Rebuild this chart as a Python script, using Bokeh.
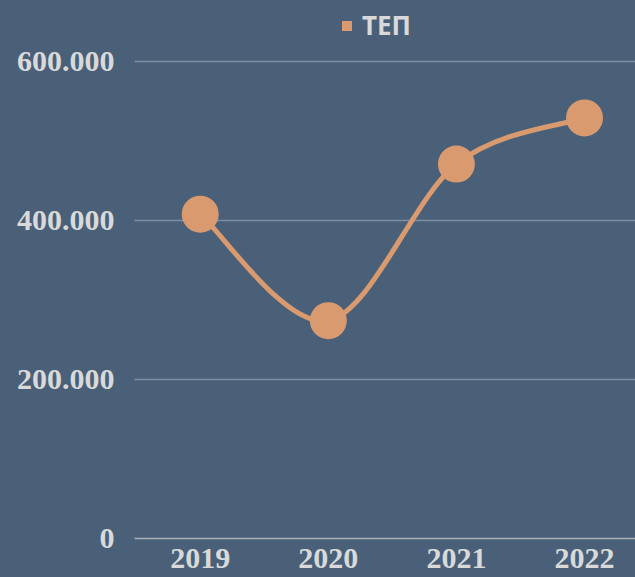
from bokeh.plotting import figure
from bokeh.models import (Range1d, FixedTicker, Legend, LegendItem, ColumnDataSource)
from bokeh.embed import file_html
from bokeh.resources import INLINE

# ---- data ----
years = ["2019", "2020", "2021", "2022"]
tep = [408000, 274000, 471000, 529000]
y_ticks = [0, 200000, 400000, 600000]
y_tick_labels = ["0", "200.000", "400.000", "600.000"]
series_name = "ТЕП"

BG = "#4a6078"
ORANGE = "#d99a70"
TXT = "#d9d9d9"

xs = list(range(len(years)))

# frame spans the full height above the axis; 600.000 sits 61px below the top
y_top = 600000 * 538 / 477
p = figure(width=635, height=577, output_backend="svg", toolbar_location=None,
           x_range=Range1d(-0.513, 3.398), y_range=Range1d(0, y_top),
           min_border_left=134, min_border_right=0, min_border_top=0,
           min_border_bottom=39)
p.background_fill_color = BG
p.border_fill_color = None
p.outline_line_color = None

# smooth curve: cubic bezier segments with Catmull-Rom style control points
n = len(xs)
def pt(i):
    i = max(0, min(n - 1, i))
    return xs[i], tep[i]
bx0, by0, bx1, by1, cx0, cy0, cx1, cy1 = [], [], [], [], [], [], [], []
for i in range(n - 1):
    xa, ya = pt(i - 1)
    x0, y0 = pt(i)
    x1, y1 = pt(i + 1)
    xb, yb = pt(i + 2)
    bx0.append(x0); by0.append(y0); bx1.append(x1); by1.append(y1)
    cx0.append(x0 + (x1 - xa) / 6); cy0.append(y0 + (y1 - ya) / 6)
    cx1.append(x1 - (xb - x0) / 6); cy1.append(y1 - (yb - y0) / 6)
p.bezier(x0=bx0, y0=by0, x1=bx1, y1=by1, cx0=cx0, cy0=cy0, cx1=cx1, cy1=cy1,
         line_color=ORANGE, line_width=5)

src = ColumnDataSource(dict(x=xs, y=tep))
p.scatter("x", "y", source=src, size=37, fill_color=ORANGE, line_color=None)

# legend proxy (square marker, hidden in the plot itself)
proxy = p.scatter("x", "y", source=src, marker="square", fill_color=ORANGE,
                  line_color=None, visible=False)
legend = Legend(items=[LegendItem(label=series_name, renderers=[proxy])],
                location=(200, 495), orientation="horizontal",
                glyph_width=25, glyph_height=25, label_standoff=3,
                padding=0, margin=0, spacing=0,
                inactive_fill_alpha=0,
                background_fill_alpha=0, border_line_alpha=0,
                label_text_font="Open Sans", label_text_font_style="bold",
                label_text_font_size="26px", label_text_color=TXT)
p.add_layout(legend, "center")

# axes
p.yaxis.ticker = FixedTicker(ticks=y_ticks)
p.yaxis.major_label_overrides = dict(zip(y_ticks, y_tick_labels))
p.yaxis.axis_line_color = None
p.yaxis.major_tick_line_color = None
p.yaxis.minor_tick_line_color = None
p.yaxis.major_tick_out = 0
p.yaxis.major_label_standoff = 20
p.yaxis.major_label_text_font = "Liberation Serif"
p.yaxis.major_label_text_font_style = "bold"
p.yaxis.major_label_text_font_size = "30px"
p.yaxis.major_label_text_color = TXT

p.xaxis.ticker = FixedTicker(ticks=xs)
p.xaxis.major_label_overrides = dict(zip(xs, years))
p.xaxis.axis_line_color = "#a9afb7"
p.xaxis.axis_line_width = 1.5
p.xaxis.major_tick_line_color = None
p.xaxis.minor_tick_line_color = None
p.xaxis.major_tick_out = 0
p.xaxis.major_label_standoff = 10
p.xaxis.major_label_text_font = "Liberation Serif"
p.xaxis.major_label_text_font_style = "bold"
p.xaxis.major_label_text_font_size = "30px"
p.xaxis.major_label_text_color = TXT

p.xgrid.grid_line_color = None
p.ygrid.ticker = FixedTicker(ticks=y_ticks)
p.ygrid.grid_line_color = "#7d8ea2"
p.ygrid.grid_line_width = 1.5

html = file_html(p, INLINE)
style = "<style>html, body { background: %s !important; }</style></head>" % BG
html = html.replace("</head>", style, 1)
open("out.html", "w").write(html)
